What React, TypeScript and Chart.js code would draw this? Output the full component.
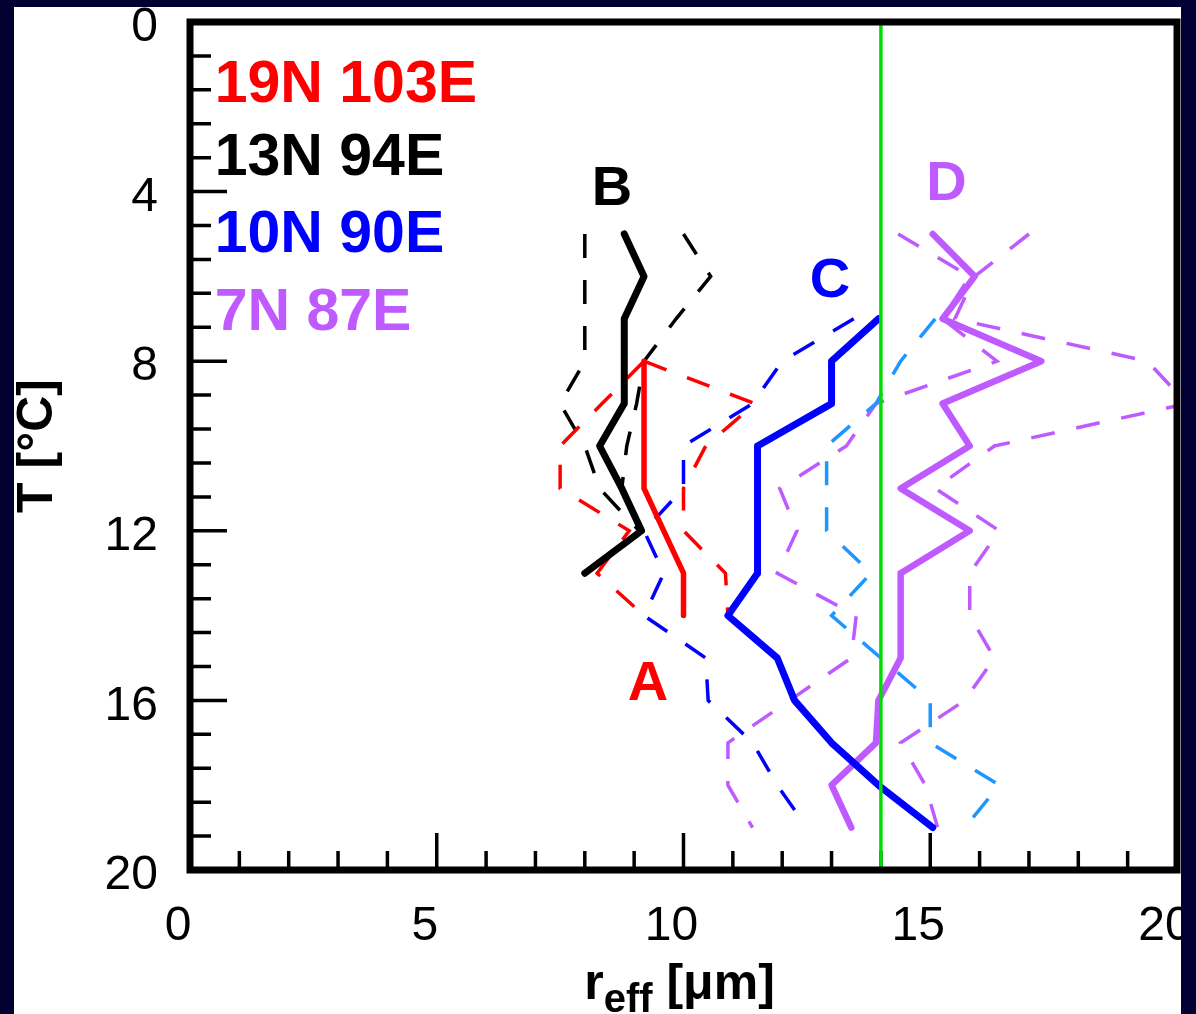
import { useEffect, useRef } from 'react';
import { Chart, registerables } from 'chart.js';

Chart.register(...registerables);

const FONT = '"Liberation Sans", Arial, Helvetica, sans-serif';

// ---- data (r_eff in µm, indexed by temperature T in °C) ----
const RED_T = [8, 9, 10, 11, 12, 13, 14];
const RED_SOLID = [9.2, 9.2, 9.2, 9.2, 9.6, 10.0, 10.0];
const RED_DASH_HI = [9.2, 11.45, 10.45, 10.0, 10.0, 10.85, 10.9];
const RED_DASH_LO = [9.2, 8.35, 7.5, 7.5, 8.9, 8.25, 9.2];

const BLACK_T = [5, 6, 7, 8, 9, 10, 11, 12, 13];
const BLACK_SOLID = [8.8, 9.2, 8.8, 8.8, 8.8, 8.3, 8.75, 9.15, 8.0];
const BLACK_DASH_T = [5, 6, 7, 8, 9, 10, 11, 12];
const BLACK_DASH_HI = [10.0, 10.55, 9.85, 9.2, 9.05, 8.85, 8.75, 9.15];
const BLACK_DASH_LO = [8.0, 8.0, 8.0, 8.0, 7.5, 8.0, 8.3, 9.1];

const BLUE_T = [7, 8, 9, 10, 11, 12, 13, 14, 15, 16, 17, 18, 19];
const BLUE_SOLID = [13.95, 13.0, 13.0, 11.5, 11.5, 11.5, 11.5, 10.9, 11.9, 12.25, 13.0, 13.95, 15.05];
const BLUE_DASH_LO = [13.45, 12.0, 11.4, 10.0, 10.0, 9.2, 9.6, 9.2, 10.45, 10.5, 11.4, 11.9, 12.5];
const BLUE_DASH_HI = [15.1, 14.4, 13.9, 12.9, 12.9, 12.9, 13.8, 13.0, 14.0, 15.0, 15.0, 16.4, 15.7];

const PURPLE_T = [5, 6, 7, 8, 9, 10, 11, 12, 13, 14, 15, 16, 17, 18, 19];
const PURPLE_SOLID = [15.05, 15.9, 15.25, 17.25, 15.25, 15.8, 14.4, 15.8, 14.4, 14.4, 14.4, 13.95, 13.9, 13.0, 13.4];
const PURPLE_DASH_HI = [17.0, 15.9, 15.5, 19.4, 20.2, 16.3, 15.1, 16.4, 15.8, 15.8, 16.3, 15.7, 14.4, 14.9, 15.15];
const PURPLE_DASH_LO = [14.35, 15.8, 15.25, 16.35, 13.9, 13.3, 11.95, 12.3, 11.9, 13.5, 13.4, 12.15, 10.9, 10.9, 11.4];

const THRESHOLD_R = 14;
const T_RANGE = [0, 20];

const LEGEND_LABELS = ['19N 103E', '13N 94E', '10N 90E', '7N 87E'];
const CURVE_LABELS = ['A', 'B', 'C', 'D'];

const RED = '#FF0000';
const BLACK = '#000000';
const BLUE = '#0000FF';
const LIGHT_BLUE = '#1E96FF';
const PURPLE = '#BE5AFF';
const GREEN = '#00DD00';
const NAVY = '#000033';

const LEGEND_COLORS = [RED, BLACK, BLUE, PURPLE];
// label anchors in data coordinates (r, T)
const CURVE_LABEL_POS = [
  { r: 9.28, t: 16.0, color: RED },
  { r: 8.55, t: 4.32, color: BLACK },
  { r: 12.97, t: 6.49, color: BLUE },
  { r: 15.33, t: 4.2, color: PURPLE },
];
const LEGEND_POS = [
  { r: 0.5, t: 1.89 },
  { r: 0.5, t: 3.61 },
  { r: 0.5, t: 5.42 },
  { r: 0.5, t: 7.26 },
];

const pts = (ts: number[], rs: number[]) => ts.map((t, i) => ({ x: rs[i], y: t }));

const solid = (label: string, data: any[], color: string, width = 6.5) => ({
  label,
  data,
  borderColor: color,
  borderWidth: width,
  borderJoinStyle: 'round',
  borderCapStyle: 'round',
  pointRadius: 0,
  fill: false,
  order: 1,
});
const dashed = (label: string, data: any[], color: string) => ({
  label,
  data,
  borderColor: color,
  borderWidth: 3.5,
  borderDash: [24, 22],
  borderCapStyle: 'butt',
  pointRadius: 0,
  fill: false,
  order: 2,
});

const decor = {
  id: 'decor',
  beforeDraw(chart: any) {
    const { ctx, width, height } = chart;
    ctx.save();
    ctx.fillStyle = '#ffffff';
    ctx.fillRect(0, 0, width, height);
    ctx.restore();
  },
  beforeDatasetsDraw(chart: any) {
    const { ctx, chartArea: a } = chart;
    const x = chart.scales.x;
    const y = chart.scales.y;
    ctx.save();
    ctx.strokeStyle = '#000';
    ctx.lineWidth = 3.5;
    ctx.beginPath();
    for (let i = 0; i <= 25; i++) {
      const py = y.getPixelForValue(i * 0.8);
      const len = i % 5 === 0 ? 37 : 21;
      ctx.moveTo(a.left, py);
      ctx.lineTo(a.left + len, py);
    }
    for (let v = 0; v <= 20; v++) {
      const px = x.getPixelForValue(v);
      const len = v % 5 === 0 ? 37 : 19;
      ctx.moveTo(px, a.bottom);
      ctx.lineTo(px, a.bottom - len);
    }
    ctx.stroke();
    ctx.restore();
  },
  afterDatasetsDraw(chart: any) {
    const { ctx, chartArea: a } = chart;
    ctx.save();
    ctx.strokeStyle = '#000';
    ctx.lineWidth = 7;
    ctx.strokeRect(a.left, a.top, a.right - a.left, a.bottom - a.top);
    ctx.restore();
  },
  afterDraw(chart: any) {
    const { ctx, chartArea: a, width, height } = chart;
    const x = chart.scales.x;
    const y = chart.scales.y;
    ctx.save();
    // legend
    ctx.font = `bold 59px ${FONT}`;
    ctx.textAlign = 'left';
    ctx.textBaseline = 'alphabetic';
    LEGEND_LABELS.forEach((txt, i) => {
      ctx.fillStyle = LEGEND_COLORS[i];
      ctx.fillText(txt, x.getPixelForValue(LEGEND_POS[i].r), y.getPixelForValue(LEGEND_POS[i].t));
    });
    // curve labels
    ctx.font = `bold 56px ${FONT}`;
    ctx.textAlign = 'center';
    CURVE_LABELS.forEach((txt, i) => {
      const p = CURVE_LABEL_POS[i];
      ctx.fillStyle = p.color;
      ctx.fillText(txt, x.getPixelForValue(p.r), y.getPixelForValue(p.t));
    });
    // y title
    ctx.fillStyle = '#000';
    ctx.save();
    ctx.translate(52, (a.top + a.bottom) / 2);
    ctx.rotate(-Math.PI / 2);
    ctx.font = `bold 50px ${FONT}`;
    ctx.textAlign = 'center';
    ctx.fillText('T [°C]', 0, 0);
    ctx.restore();
    // x title with subscript
    ctx.textAlign = 'left';
    ctx.font = `bold 50px ${FONT}`;
    const w1 = ctx.measureText('r').width;
    const w3 = ctx.measureText(' [μm]').width;
    ctx.font = `bold 40px ${FONT}`;
    const w2 = ctx.measureText('eff').width;
    let sx = (a.left + a.right) / 2 - (w1 + w2 + w3) / 2 - 4;
    ctx.font = `bold 50px ${FONT}`;
    ctx.fillText('r', sx, 999);
    sx += w1;
    ctx.font = `bold 40px ${FONT}`;
    ctx.fillText('eff', sx, 1012);
    sx += w2;
    ctx.font = `bold 50px ${FONT}`;
    ctx.fillText(' [μm]', sx, 999);
    // navy frame
    ctx.fillStyle = NAVY;
    ctx.fillRect(0, 0, width, 7);
    ctx.fillRect(0, 0, 14, height);
    ctx.fillRect(1181, 0, width - 1181, height);
    ctx.restore();
  },
};

export default function App() {
  const ref = useRef<HTMLCanvasElement | null>(null);
  useEffect(() => {
    if (!ref.current) return;
    const chart = new Chart(ref.current, {
      type: 'line',
      data: {
        datasets: [
          {
            label: 'threshold',
            data: T_RANGE.map((t) => ({ x: THRESHOLD_R, y: t })),
            borderColor: GREEN,
            borderWidth: 3.5,
            pointRadius: 0,
            fill: false,
            order: 0,
          },
          solid('19N 103E', pts(RED_T, RED_SOLID), RED, 5.5),
          solid('13N 94E', pts(BLACK_T, BLACK_SOLID), BLACK, 7),
          solid('10N 90E', pts(BLUE_T, BLUE_SOLID), BLUE, 7),
          solid('7N 87E', pts(PURPLE_T, PURPLE_SOLID), PURPLE, 6.5),
          dashed('19N 103E hi', pts(RED_T, RED_DASH_HI), RED),
          dashed('19N 103E lo', pts(RED_T, RED_DASH_LO), RED),
          dashed('13N 94E hi', pts(BLACK_DASH_T, BLACK_DASH_HI), BLACK),
          dashed('13N 94E lo', pts(BLACK_DASH_T, BLACK_DASH_LO), BLACK),
          dashed('10N 90E lo', pts(BLUE_T, BLUE_DASH_LO), BLUE),
          dashed('10N 90E hi', pts(BLUE_T, BLUE_DASH_HI), LIGHT_BLUE),
          dashed('7N 87E hi', pts(PURPLE_T, PURPLE_DASH_HI), PURPLE),
          dashed('7N 87E lo', pts(PURPLE_T, PURPLE_DASH_LO), PURPLE),
        ] as any,
      },
      options: {
        animation: false,
        responsive: false,
        maintainAspectRatio: false,
        devicePixelRatio: 1,
        layout: { padding: { left: 0, top: 22, right: 19, bottom: 0 } },
        plugins: { legend: { display: false }, tooltip: { enabled: false } },
        elements: { line: { tension: 0 }, point: { radius: 0 } },
        scales: {
          x: {
            type: 'linear',
            position: 'bottom',
            min: 0,
            max: 20,
            grid: { display: false, drawTicks: false, tickLength: 0 },
            border: { display: false },
            ticks: {
              stepSize: 5,
              padding: 28,
              labelOffset: -12,
              maxRotation: 0,
              autoSkip: false,
              color: '#000',
              font: { family: FONT, size: 48 },
            },
            afterFit: (s: any) => {
              s.height = 144;
              s.paddingLeft = 0;
              s.paddingRight = 0;
            },
          },
          y: {
            type: 'linear',
            min: 0,
            max: 20,
            reverse: true,
            grid: { display: false, drawTicks: false, tickLength: 0 },
            border: { display: false },
            ticks: {
              stepSize: 4,
              padding: 32,
              labelOffset: 6,
              autoSkip: false,
              color: '#000',
              font: { family: FONT, size: 48 },
            },
            afterFit: (s: any) => {
              s.width = 190;
              s.paddingTop = 0;
              s.paddingBottom = 0;
            },
          },
        },
      } as any,
      plugins: [decor],
    });
    return () => chart.destroy();
  }, []);
  return (
    <div style={{ position: 'fixed', left: 0, top: 0, width: 1196, height: 1014, background: NAVY }}>
      <canvas ref={ref} width={1196} height={1014} style={{ display: 'block' }} />
    </div>
  );
}
